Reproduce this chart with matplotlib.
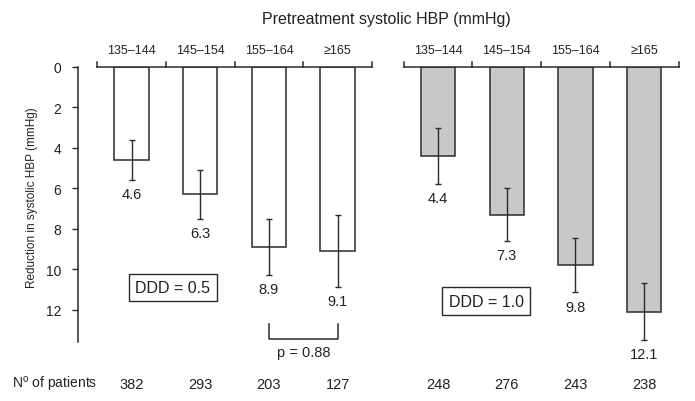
import numpy as np
import matplotlib
matplotlib.use("Agg")
import matplotlib.pyplot as plt

plt.rcParams["font.family"] = ["Liberation Sans", "DejaVu Sans"]
plt.rcParams["mathtext.fontset"] = "custom"
plt.rcParams["mathtext.rm"] = "Liberation Sans"

GROUPS = ["135\u2013144", "145\u2013154", "155\u2013164", "\u2265165"]

DDD05_MEAN = [4.6, 6.3, 8.9, 9.1]
DDD05_ERR = [1.0, 1.2, 1.4, 1.8]
DDD05_N = [382, 293, 203, 127]

DDD10_MEAN = [4.4, 7.3, 9.8, 12.1]
DDD10_ERR = [1.4, 1.3, 1.35, 1.4]
DDD10_N = [248, 276, 243, 238]

P_VALUE = "p = 0.88"

DARK = "#2b2b2b"
TXT = "#222222"
GRAY = "#c8c8c8"
RIGHT_OFFSET = 4.46
YMAX = 13.6

fig = plt.figure(figsize=(6.95, 4.02), dpi=100)
ax = fig.add_axes([78 / 695, 59 / 402, 617 / 695, 275 / 402])

x_left = np.arange(len(GROUPS))
x_right = x_left + RIGHT_OFFSET

# bars
ax.bar(x_left, DDD05_MEAN, width=0.5, color="white", edgecolor=DARK, linewidth=1.1, zorder=2)
ax.bar(x_right, DDD10_MEAN, width=0.5, color=GRAY, edgecolor=DARK, linewidth=1.1, zorder=2)

# error bars, symmetric around the mean
for xs, means, errs in [(x_left, DDD05_MEAN, DDD05_ERR), (x_right, DDD10_MEAN, DDD10_ERR)]:
    ax.errorbar(xs, means, yerr=errs, fmt="none", ecolor=DARK, elinewidth=1.0,
                capsize=2.5, capthick=1.0, zorder=3)
    for x, m, e in zip(xs, means, errs):
        ax.text(x, m + e + 0.35, "{:.1f}".format(m), ha="center", va="top", fontsize=10.5,
                color=TXT)

# top brackets with the HBP categories
for xs in [x_left, x_right]:
    edges = np.append(xs - 0.5, xs[-1] + 0.5)
    ax.plot([edges[0], edges[-1]], [0, 0], color=DARK, lw=1.1, clip_on=False, zorder=4)
    for e in edges:
        ax.plot([e, e], [0, -0.27], color=DARK, lw=1.1, clip_on=False, zorder=4)
    for x, g in zip(xs, GROUPS):
        ax.text(x, -0.82, g, ha="center", va="center", fontsize=9, color=TXT)

ax.text((x_left[0] + x_right[-1]) / 2 - 0.02, -2.4, "Pretreatment systolic HBP (mmHg)",
        ha="center", va="center", fontsize=11.5, color=TXT)

# DDD boxes
box = dict(boxstyle="square,pad=0.4", facecolor="white", edgecolor=DARK, linewidth=1.0)
ax.text(0.6, 10.9, "DDD = 0.5", ha="center", va="center", fontsize=11.5, bbox=box, color=TXT)
ax.text(5.16, 11.58, "DDD = 1.0", ha="center", va="center", fontsize=11.5, bbox=box, color=TXT)

# p-value bracket between the two highest groups
ax.plot([x_left[2], x_left[2], x_left[3], x_left[3]], [12.7, 13.44, 13.44, 12.7],
        color=DARK, lw=1.1, clip_on=False)
ax.text((x_left[2] + x_left[3]) / 2, 14.1, P_VALUE, ha="center", va="center", fontsize=10.5,
        color=TXT)

# patient counts row
ax.text(-1.74, 15.67, r"N$^{\mathrm{o}}$ of patients", ha="left", va="center", fontsize=10,
        color=TXT)
for xs, ns in [(x_left, DDD05_N), (x_right, DDD10_N)]:
    for x, n in zip(xs, ns):
        ax.text(x, 15.67, str(n), ha="center", va="center", fontsize=10.5, color=TXT)

ax.set_xlim(-0.779, 8.20)
ax.set_ylim(YMAX, 0)
ax.set_yticks([0, 2, 4, 6, 8, 10, 12])
ax.set_xticks([])
for s in ["top", "right", "bottom"]:
    ax.spines[s].set_visible(False)
ax.spines["left"].set_color(DARK)
ax.spines["left"].set_linewidth(1.1)
ax.tick_params(axis="y", length=4, width=1.0, color=DARK, pad=8, labelsize=10,
               labelcolor=TXT)

fig.text(32 / 695, 1 - 198 / 402, "Reduction in systolic HBP (mmHg)", rotation=90,
         ha="center", va="center", fontsize=8.5, color=TXT)

fig.savefig("out.png", dpi=100)
